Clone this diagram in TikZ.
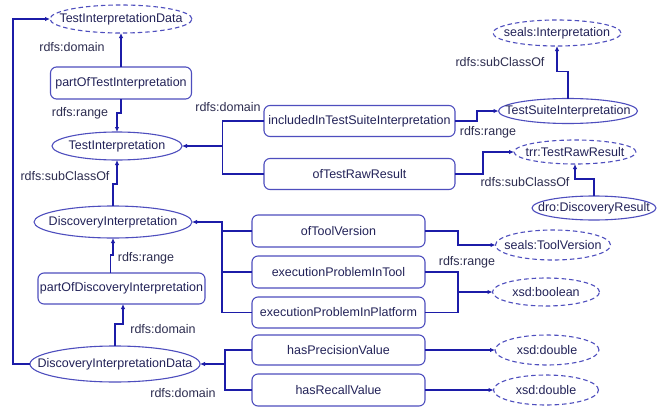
\documentclass[tikz,border=0pt]{standalone}
\usepackage{fontspec}
\setmainfont{Liberation Sans}
\usetikzlibrary{shapes.geometric,arrows.meta}
\definecolor{nodeb}{RGB}{78,78,190}
\definecolor{linec}{RGB}{28,28,168}
\definecolor{txt}{RGB}{34,34,88}
\definecolor{lbl}{RGB}{45,45,80}
\newcommand\zc[1]{\makebox[0pt][c]{#1}}
\tikzset{
  base/.style={inner sep=0pt, outer sep=0pt, text=txt, font=\fontsize{12.5}{14}\selectfont, draw=nodeb, line width=1.1pt},
  propbox/.style={base, rectangle, rounded corners=6pt},
  cls/.style={base, ellipse},
  ext/.style={base, ellipse, dashed, dash pattern=on 4.5pt off 3pt},
  conn/.style={draw=linec, line width=1.1pt, -{Latex[length=5pt,width=4.5pt]}},
  plain/.style={draw=linec, line width=1.1pt},
  lab/.style={inner sep=0pt, text=lbl, font=\fontsize{12.5}{14}\selectfont}
}
\begin{document}
\begin{tikzpicture}[x=1pt,y=-1pt]
\useasboundingbox[fill=white] (0,0) rectangle (657,407);
% nodes
\node[ext, minimum width=142pt, minimum height=28pt] (TID) at (121,19) {\zc{TestInterpretationData}};
\node[propbox, minimum width=141pt, minimum height=32pt] (pOTI) at (121,83) {partOfTestInterpretation};
\node[cls, minimum width=130pt, minimum height=28pt] (TI) at (117,146) {\zc{TestInterpretation}};
\node[propbox, minimum width=191pt, minimum height=31pt] (incl) at (359.5,121) {includedInTestSuiteInterpretation};
\node[cls, minimum width=139pt, minimum height=25pt] (TSI) at (568,111) {\zc{TestSuiteInterpretation}};
\node[ext, minimum width=128pt, minimum height=26pt] (SI) at (557,33) {\zc{seals:Interpretation}};
\node[propbox, minimum width=191pt, minimum height=31pt] (oTRR) at (359.5,174) {ofTestRawResult};
\node[ext, minimum width=122pt, minimum height=24pt] (TRR) at (575,152) {\zc{trr:TestRawResult}};
\node[cls, minimum width=124pt, minimum height=24pt] (DRO) at (594,208) {\zc{dro:DiscoveryResult}};
\node[cls, minimum width=158pt, minimum height=32pt] (DI) at (113,222) {\zc{DiscoveryInterpretation}};
\node[propbox, minimum width=173pt, minimum height=32pt] (oTV) at (338.5,231) {ofToolVersion};
\node[ext, minimum width=115pt, minimum height=30pt] (STV) at (553,245) {\zc{seals:ToolVersion}};
\node[propbox, minimum width=173pt, minimum height=32pt] (ePIT) at (338.5,272) {executionProblemInTool};
\node[propbox, minimum width=173pt, minimum height=31pt] (ePIP) at (338.5,312.5) {executionProblemInPlatform};
\node[ext, minimum width=107pt, minimum height=28pt] (XB) at (546,292) {\zc{xsd:boolean}};
\node[propbox, minimum width=167pt, minimum height=31pt] (pODI) at (121.5,288.5) {partOfDiscoveryInterpretation};
\node[cls, minimum width=170pt, minimum height=36pt] (DID) at (115,364) {\zc{DiscoveryInterpretationData}};
\node[propbox, minimum width=173pt, minimum height=30pt] (hPV) at (338.5,350) {hasPrecisionValue};
\node[propbox, minimum width=173pt, minimum height=32pt] (hRV) at (338.5,390) {hasRecallValue};
\node[ext, minimum width=104pt, minimum height=30pt] (XD1) at (547,350) {\zc{xsd:double}};
\node[ext, minimum width=105pt, minimum height=30pt] (XD2) at (546,390) {\zc{xsd:double}};
% connectors
\draw[conn] (pOTI.north) -- (TID.south);
\draw[conn] (pOTI.south) -- ++(0,14) -| (TI.north);
\draw[conn] (incl.west) -- ++(-41.5,0) coordinate (bTI) |- (TI.east);
\draw[plain] (oTRR.west) -| (bTI);
\draw[conn] (incl.east) -- ++(22,0) |- (TSI.west);
\draw[conn] (TSI.north) -- ++(0,-27) -| (SI.south);
\draw[conn] (oTRR.east) -- ++(28,0) |- (TRR.west);
\draw[conn] (DRO.north) -- ++(0,-17) -| (TRR.south);
\draw[conn] (DI.north) -- ++(0,-22) -| (TI.south);
\draw[conn] (oTV.west) -- ++(-30,0) coordinate (bDI) |- (DI.east);
\draw[plain] (ePIT.west) -| (bDI);
\draw[plain] (ePIP.west) -| (bDI);
\draw[conn] (oTV.east) -- ++(33,0) |- (STV.west);
\draw[conn] (ePIT.east) -- ++(33,0) coordinate (bXB) |- (XB.west);
\draw[plain] (ePIP.east) -| (bXB);
\draw[conn] ([xshift=-11pt]pODI.north) -- ++(0,-18) -| (DI.south);
\draw[conn] (DID.north) -- ++(0,-22) -| ([xshift=1.5pt]pODI.south);
\draw[conn] (DID.west) -- ++(-17,0) |- (TID.west);
\draw[conn] (hPV.west) -- ++(-27,0) coordinate (bDID) |- (DID.east);
\draw[plain] (hRV.west) -| (bDID);
\draw[conn] (hPV.east) -- (XD1.west);
\draw[conn] (hRV.east) -- (XD2.west);
% labels
\node[lab] (l1) at (72,47) {rdfs:domain};
\node[lab] (l2) at (80,113) {rdfs:range};
\node[lab] (l3) at (228,107) {rdfs:domain};
\node[lab] (l4) at (500,62) {rdfs:subClassOf};
\node[lab] (l5) at (488,132) {rdfs:range};
\node[lab] (l6) at (525,182) {rdfs:subClassOf};
\node[lab] (l7) at (65,176) {rdfs:subClassOf};
\node[lab] (l8) at (146,258) {rdfs:range};
\node[lab] (l9) at (467,262) {rdfs:range};
\node[lab] (l10) at (163,329) {rdfs:domain};
\node[lab] (l11) at (183,393) {rdfs:domain};
\end{tikzpicture}
\end{document}
